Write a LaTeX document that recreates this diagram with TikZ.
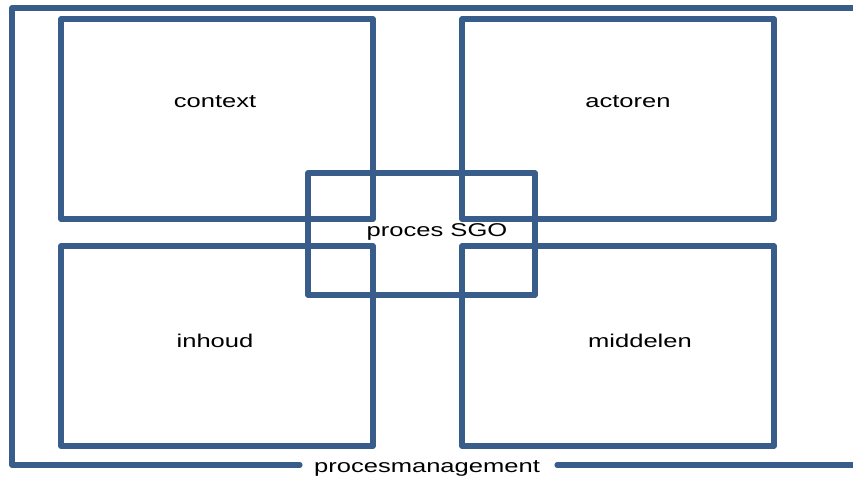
\documentclass[tikz,border=0pt]{standalone}
\usepackage{fontspec}
\setmainfont{Liberation Sans}
\definecolor{frameblue}{HTML}{385D8A}
\begin{document}
\begin{tikzpicture}[x=0.03cm, y=-0.03cm, line cap=round, line join=round,
    box/.style={draw=frameblue, line width=4.4pt},
    lbl/.style={inner sep=0pt, font=\fontsize{15.8}{18}\selectfont, text=black}]

\useasboundingbox (0,0) rectangle (853,480);

% outer frame, open on the right
\draw[box] (300,465) -- (12,465) -- (12,8) -- (853,8);
\draw[box] (557,465) -- (853,465);

% four quadrants
\foreach \x/\y in {61/19, 462/19, 61/246, 462/246} {
    \draw[box] (\x,\y) rectangle ++(312,200);
}

% centre square
\draw[box] (308,173) rectangle (535,295);

\node[lbl] (context)  at (215,102) {\scalebox{1.38}[1]{context}};
\node[lbl] (actoren)  at (628,102) {\scalebox{1.38}[1]{actoren}};
\node[lbl] (inhoud)   at (215,341) {\scalebox{1.38}[1]{inhoud}};
\node[lbl] (middelen) at (640,341) {\scalebox{1.38}[1]{middelen}};
\node[lbl] (sgo)      at (437,232) {\scalebox{1.38}[1]{proces SGO}};
\node[lbl] (pm)       at (427,468) {\scalebox{1.38}[1]{procesmanagement}};
\end{tikzpicture}
\end{document}
